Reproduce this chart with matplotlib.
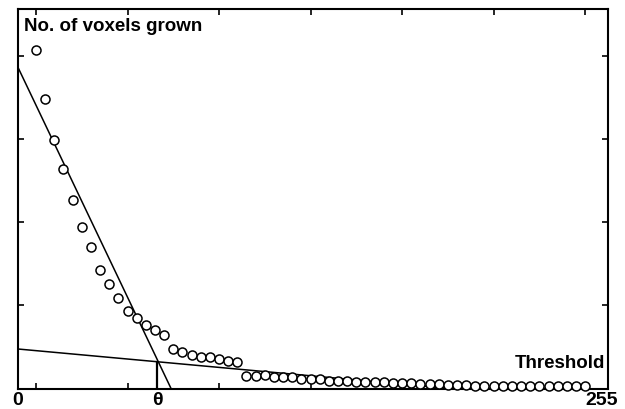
import matplotlib
matplotlib.use('Agg')
import matplotlib.pyplot as plt
import matplotlib.transforms as mtransforms

# threshold values (grey level) and number of voxels grown
thresholds = [8, 12, 16, 20, 24, 28, 32, 36, 40, 44, 48, 52, 56, 60, 64, 68, 72, 76, 80, 84,
              88, 92, 96, 100, 104, 108, 112, 116, 120, 124, 128, 132, 136, 140, 144, 148, 152, 156, 160, 164,
              168, 172, 176, 180, 184, 188, 192, 196, 200, 204, 208, 212, 216, 220, 224, 228, 232, 236, 240, 244,
              248]
voxels = [4080, 3490, 2990, 2640, 2270, 1950, 1700, 1430, 1260, 1090, 935, 850, 765, 705, 645, 475, 440, 405, 380, 380,
          355, 330, 320, 150, 150, 160, 140, 140, 140, 115, 115, 115, 90, 90, 90, 78, 78, 78, 78, 66,
          66, 66, 54, 54, 54, 42, 40, 38, 36, 34, 32, 30, 30, 30, 30, 30, 30, 30, 30, 30,
          30]

# fitted lines (intercept at threshold 0, slope)
steep_line = (3874, -57.8)
flat_line = (476, -2.52)
theta = 61

fig = plt.figure(figsize=(6.25, 4.09), dpi=100)
ax = fig.add_axes([0.0283, 0.0501, 0.9445, 0.928])

ax.plot(thresholds, voxels, linestyle='none', marker='o', markersize=6.5,
        markerfacecolor='white', markeredgecolor='black', markeredgewidth=1.1,
        clip_on=False, zorder=3)

xs = [0, 80]
ax.plot(xs, [steep_line[0] + steep_line[1] * x for x in xs], color='black', linewidth=1.1)
xs = [0, 258]
ax.plot(xs, [flat_line[0] + flat_line[1] * x for x in xs], color='black', linewidth=1.1)
ax.plot([theta, theta], [0, flat_line[0] + flat_line[1] * theta], color='black', linewidth=1.6)

ax.set_xlim(0, 258)
ax.set_ylim(0, 4570)
ax.set_xticks([8, 48, 88, 128, 168, 208, 248])
ax.set_yticks([1000, 2000, 3000, 4000])
ax.tick_params(direction='in', length=4.5, width=1.2, top=True, right=True,
               labelbottom=False, labelleft=False)
for s in ax.spines.values():
    s.set_linewidth(1.5)

trans = mtransforms.blended_transform_factory(ax.transData, ax.transAxes)
for x, lab in [(0, '0'), (theta, 'θ'), (255, '255')]:
    ax.text(x, -0.008, lab, transform=trans, ha='center', va='top',
            fontsize=14, fontweight='bold', family='Liberation Sans')

ax.text(0.011, 0.976, 'No. of voxels grown', transform=ax.transAxes, ha='left', va='top',
        fontsize=13.5, fontweight='bold', family='Liberation Sans')
ax.text(0.995, 0.043, 'Threshold', transform=ax.transAxes, ha='right', va='bottom',
        fontsize=13.5, fontweight='bold', family='Liberation Sans')

fig.savefig('out.png', dpi=100)
